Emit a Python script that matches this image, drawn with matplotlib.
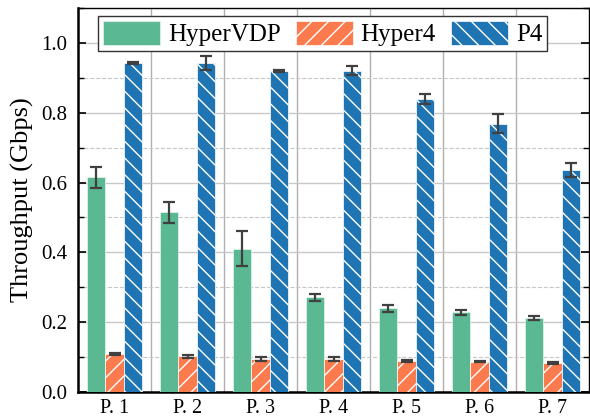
import numpy as np
import matplotlib.pyplot as plt
from matplotlib.ticker import MultipleLocator, FixedLocator

plt.rcParams['font.family'] = ['Liberation Serif', 'DejaVu Serif']
plt.rcParams['hatch.linewidth'] = 1.0

programs = ['P. 1', 'P. 2', 'P. 3', 'P. 4', 'P. 5', 'P. 6', 'P. 7']

hypervdp = [0.615, 0.515, 0.410, 0.272, 0.240, 0.228, 0.212]
hypervdp_err = [0.030, 0.030, 0.050, 0.010, 0.010, 0.006, 0.007]

hyper4 = [0.108, 0.102, 0.094, 0.094, 0.089, 0.087, 0.084]
hyper4_err = [0.003, 0.005, 0.006, 0.006, 0.004, 0.002, 0.003]

p4 = [0.942, 0.942, 0.920, 0.920, 0.840, 0.768, 0.636]
p4_err = [0.002, 0.020, 0.002, 0.013, 0.015, 0.027, 0.020]

x = np.arange(len(programs))
w = 0.255

fig = plt.figure(figsize=(5.9, 4.18), dpi=100)
ax = fig.add_axes([78 / 590, 26 / 418, 511 / 590, 384 / 418])

err_kw = dict(ecolor='#404040', capsize=4, elinewidth=1.6, capthick=1.6)

ax.bar(x - w, hypervdp, w, yerr=hypervdp_err, color='#5ab892',
       edgecolor='#e8f5ef', linewidth=0.5, label='HyperVDP', error_kw=err_kw, zorder=3)
ax.bar(x, hyper4, w, yerr=hyper4_err, color='#fc7b4e', hatch='//',
       edgecolor='white', linewidth=0.5, label='Hyper4', error_kw=err_kw, zorder=3)
ax.bar(x + w, p4, w, yerr=p4_err, color='#1f74b3', hatch='\\\\',
       edgecolor='white', linewidth=0.5, label='P4', error_kw=err_kw, zorder=3)

ax.set_xlim(-0.5, len(programs) - 0.5)
ax.set_ylim(0, 1.1)
ax.set_xticks(x)
ax.set_xticklabels(programs)
ax.xaxis.set_minor_locator(FixedLocator(x[:-1] + 0.5))
ax.yaxis.set_major_locator(MultipleLocator(0.2))
ax.yaxis.set_minor_locator(MultipleLocator(0.1))
ax.tick_params(axis='x', which='both', length=0, labelsize=14.5, pad=5)
ax.tick_params(axis='y', which='both', direction='in', right=True, labelsize=15, pad=8)
ax.tick_params(axis='y', which='major', length=6, width=1.2)
ax.tick_params(axis='y', which='minor', length=4, width=1.0)

ax.grid(axis='y', which='major', color='#c8c8c8', linewidth=1.0, zorder=0)
ax.grid(axis='y', which='minor', color='#c8c8c8', linestyle='--', linewidth=0.8, zorder=0)
ax.grid(axis='x', which='minor', color='#b0b0b0', linewidth=1.0, zorder=0)

for s in ['left', 'bottom']:
    ax.spines[s].set_linewidth(1.8)
for s in ['top', 'right']:
    ax.spines[s].set_linewidth(1.0)

ax.set_ylabel('Throughput (Gbps)', fontsize=19, labelpad=5)

leg = ax.legend(loc='upper left', bbox_to_anchor=(0.039, 0.980), ncol=3, fontsize=18,
                frameon=True, fancybox=False, edgecolor='#333333', framealpha=1,
                handlelength=2.3, handleheight=1.1, columnspacing=0.6,
                handletextpad=0.3, borderpad=0.2, borderaxespad=0)
leg.get_frame().set_linewidth(1.0)

fig.savefig('out.png', dpi=100)
